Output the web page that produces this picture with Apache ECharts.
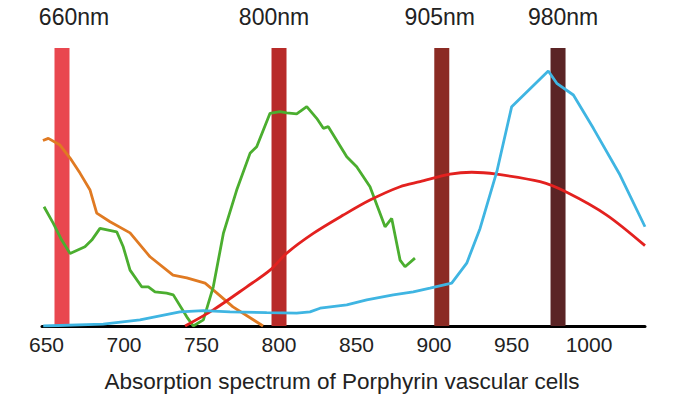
<!DOCTYPE html>
<html>
<head>
<meta charset="utf-8">
<script src="https://cdn.jsdelivr.net/npm/echarts@6/dist/echarts.min.js"></script>
<style>html,body{margin:0;padding:0;background:#fff}#c{width:700px;height:400px}</style>
</head>
<body>
<div id="c"></div>
<script>
// ---- data ----
const laserNm = [660, 800, 905, 980];
const laserHeight = [100, 100, 100, 100];
const tickStep = 50;
const title = 'Absorption spectrum of Porphyrin vascular cells';

const orangeNm = [647.7, 651.2, 658.7, 665.2, 671.6, 678.1, 682.4, 691.0, 703.9, 716.8, 731.6, 740.5, 752.3, 759.8, 770.3, 789.7];
const orangeVal = [66.7, 67.5, 65.1, 60.4, 55.0, 48.9, 40.6, 37.5, 33.5, 24.9, 18.3, 17.3, 15.4, 11.9, 6.9, 0];

const greenNm = [648.4, 654.4, 659.8, 665.2, 674.8, 679.2, 684.5, 695.3, 699.5, 703.9, 711.4, 715.7, 720.0, 727.5, 731.8, 740.5, 744.7, 751.2, 757.6, 764.1, 772.7, 781.3, 785.6, 794.2, 800.6, 805.0, 811.4, 817.9, 824.3, 828.6, 831.8, 843.7, 850.1, 858.7, 865.2, 868.4, 872.7, 878.1, 881.3, 887.7];
const greenVal = [42.9, 36.9, 30.9, 26.1, 28.5, 30.9, 35.1, 33.9, 28.5, 20.1, 14.1, 14.1, 12.3, 11.8, 11.2, 3.3, 0, 2.2, 14.1, 33.3, 48.9, 62.1, 64.5, 76.5, 77.1, 76.7, 76.3, 78.9, 74.7, 71.1, 71.7, 60.9, 57.3, 50.1, 40.5, 35.7, 38.7, 23.7, 21.3, 24.4];

const redNm = [739.4, 757.6, 779.2, 794.2, 805.0, 822.1, 841.5, 858.7, 878.1, 891.0, 910.3, 924.3, 940.5, 968.4, 985.6, 1011.4, 1036.1];
const redVal = [0, 5.8, 14.1, 20.1, 26.2, 33.3, 39.9, 45.3, 50.1, 51.9, 54.6, 55.3, 54.6, 51.9, 48.1, 39.9, 28.9];

const blueNm = [647.9, 686.6, 710.3, 736.1, 751.2, 768.4, 792.1, 811.4, 820.0, 826.5, 843.7, 856.6, 873.7, 886.6, 897.4, 911.4, 921.1, 929.7, 940.5, 950.1, 973.7, 979.2, 989.9, 1002.8, 1020.0, 1036.1];
const blueVal = [0, 0.7, 2.2, 5.1, 5.5, 5.1, 4.8, 4.6, 5.1, 6.4, 7.6, 9.4, 11.2, 12.3, 13.6, 15.4, 22.6, 35.1, 55.5, 78.9, 91.7, 87.3, 83.1, 71.1, 54.3, 35.7];

// ---- styles ----
const laserColors = ['#e9474f', '#b82b29', '#8b2b24', '#5b2425'];
const laserLabelShift = [12, -5, -2, 5];
const FONT = '"Liberation Sans", Arial, Helvetica, sans-serif';

const zip = (a, b) => a.map((v, i) => [v, b[i]]);
const lineSeries = (nm, val, color, smooth) => ({
  type: 'line', data: zip(nm, val), symbol: 'none', smooth: smooth || false, z: 3,
  lineStyle: { color: color, width: 2.8 }, silent: true
});

const chart = echarts.init(document.getElementById('c'), null, { renderer: 'svg' });
chart.setOption({
  animation: false,
  backgroundColor: '#fff',
  grid: { left: 42, right: 55, top: 48, bottom: 74 },
  xAxis: {
    type: 'value', min: 647.1, max: 1036.1, splitNumber: 8,
    axisLine: { lineStyle: { color: '#000', width: 3 } },
    axisTick: { show: false },
    splitLine: { show: false },
    axisLabel: {
      margin: 8, color: '#222', fontSize: 21, fontFamily: FONT,
      formatter: v => (Math.abs(v % tickStep) < 1e-6 ? String(v) : '')
    }
  },
  yAxis: { type: 'value', min: 0, max: 100, show: false },
  graphic: [{
    type: 'text', x: 342, y: 381,
    style: { text: title, x: 0, y: 0, align: 'center', verticalAlign: 'middle',
      fontSize: 22.5, fontFamily: FONT, fill: '#222' }
  }],
  series: [
    {
      type: 'bar', barWidth: 15, z: 1, silent: true,
      data: laserNm.map((nm, i) => ({
        value: [nm, laserHeight[i]],
        itemStyle: { color: laserColors[i] },
        label: { offset: [laserLabelShift[i], 0] }
      })),
      label: {
        show: true, position: 'top', distance: 20,
        formatter: p => p.value[0] + 'nm',
        fontSize: 23, fontFamily: FONT, color: '#222'
      }
    },
    lineSeries(orangeNm, orangeVal, '#e07a22'),
    lineSeries(greenNm, greenVal, '#4bae2f'),
    lineSeries(redNm, redVal, '#e3211f', 0.3),
    lineSeries(blueNm, blueVal, '#3fb5e2')
  ]
});
</script>
</body>
</html>
